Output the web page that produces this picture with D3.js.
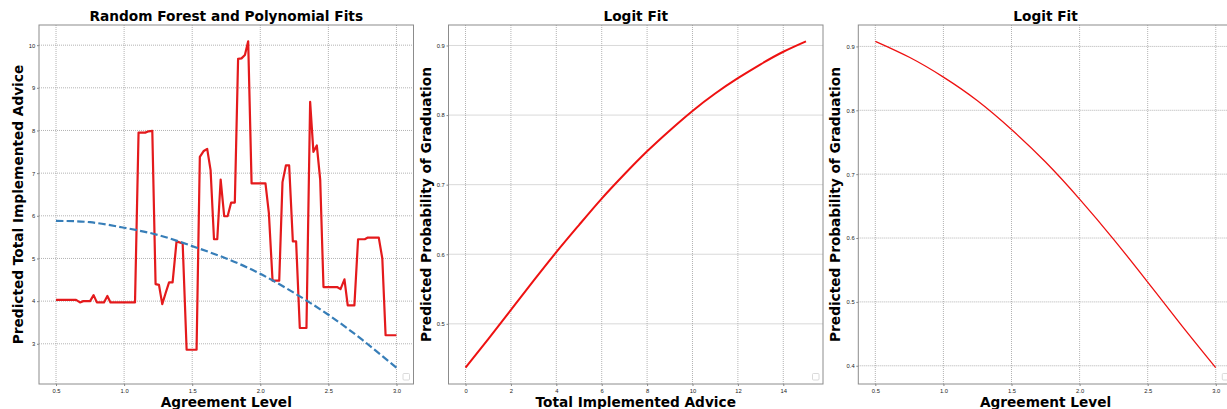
<!DOCTYPE html>
<html>
<head>
<meta charset="utf-8">
<script src="https://cdn.jsdelivr.net/npm/d3@7"></script>
<style>
  body { margin: 0; background: #fff; }
  svg { display: block; font-family: "DejaVu Sans", sans-serif; }
  .grid line { stroke: #a0a0a0; stroke-width: 0.8; stroke-dasharray: 1,1; }
  .tick text { fill: #222; font-size: 5.8px; }
  .tick line { stroke: #888; }
  .domain { display: none; }
</style>
</head>
<body>
<svg width="1227" height="409"></svg>
<script>
// random forest predictions vs agreement level
var rfX = [0.5, 0.647, 0.676, 0.70, 0.75, 0.776, 0.80, 0.852, 0.877, 0.90, 1.08, 1.106, 1.155, 1.18, 1.207,
  1.231, 1.256, 1.28, 1.305, 1.33, 1.356, 1.385, 1.43, 1.459, 1.532, 1.556, 1.585, 1.61, 1.635, 1.66, 1.684,
  1.709, 1.735, 1.76, 1.786, 1.813, 1.837, 1.862, 1.887, 1.911, 1.936, 2.038, 2.063, 2.09, 2.139, 2.163,
  2.188, 2.212, 2.239, 2.263, 2.29, 2.339, 2.366, 2.39, 2.415, 2.44, 2.464, 2.564, 2.589, 2.618, 2.642,
  2.691, 2.718, 2.767, 2.79, 2.87, 2.896, 2.92, 3.0];
var rfY = [4.03, 4.03, 3.97, 4.0, 4.0, 4.14, 3.97, 3.97, 4.12, 3.97, 3.97, 7.95, 7.95, 7.98, 7.99,
  4.40, 4.38, 3.93, 4.19, 4.44, 4.44, 5.40, 5.35, 2.86, 2.86, 7.38, 7.52, 7.57, 7.07, 5.45, 5.45,
  6.85, 5.99, 5.99, 6.31, 6.31, 9.68, 9.69, 9.77, 10.09, 6.76, 6.76, 6.06, 4.48, 4.48, 6.79,
  7.18, 7.18, 5.40, 5.40, 3.37, 3.37, 8.67, 7.50, 7.65, 6.84, 4.33, 4.33, 4.28, 4.51, 3.90,
  3.90, 5.45, 5.45, 5.49, 5.49, 5.0, 3.20, 3.20];

// polynomial fit (dashed)
var polyX = [0.5, 0.75, 1.0, 1.25, 1.5, 1.75, 2.0, 2.25, 2.5, 2.75, 3.0];
var polyY = [5.88, 5.85, 5.72, 5.55, 5.29, 5.0, 4.64, 4.19, 3.68, 3.09, 2.44];

// logit fit vs total implemented advice
var adviceX = [0, 1, 2, 3, 4, 5, 6, 7, 8, 9, 10, 11, 12, 13, 14, 15];
var adviceP = [0.437, 0.478, 0.520, 0.562, 0.603, 0.642, 0.680, 0.715, 0.748, 0.778, 0.806, 0.831, 0.853, 0.873, 0.891, 0.906];

// logit fit vs agreement level
var agreeX = [0.5, 0.75, 1.0, 1.25, 1.5, 1.75, 2.0, 2.25, 2.5, 2.75, 3.0];
var agreeP = [0.908, 0.883, 0.852, 0.815, 0.770, 0.719, 0.661, 0.598, 0.531, 0.463, 0.397];

// tick labels
var agreeTicks = [0.5, 1.0, 1.5, 2.0, 2.5, 3.0];
var rfTicks = [3, 4, 5, 6, 7, 8, 9, 10];
var adviceTicks = [0, 2, 4, 6, 8, 10, 12, 14];
var probTicks1 = [0.5, 0.6, 0.7, 0.8, 0.9];
var probTicks2 = [0.4, 0.5, 0.6, 0.7, 0.8, 0.9];

var svg = d3.select("svg");
var plotTop = 25, plotBottom = 384, panelW = 374.5;

// matplotlib style padding: 5% of the data range on each side
function padded(vals) {
  var e = d3.extent(vals), m = (e[1] - e[0]) * 0.05;
  return [e[0] - m, e[1] + m];
}

function drawPanel(p) {
  var x = d3.scaleLinear().domain(padded(p.xDomainVals)).range([p.left, p.left + panelW]);
  var y = d3.scaleLinear().domain(padded(p.yDomainVals)).range([plotBottom, plotTop]);
  var g = svg.append("g");

  // dotted grid
  var grid = g.append("g").attr("class", "grid");
  grid.selectAll(".gx").data(p.xTicks).enter().append("line")
    .attr("x1", d => x(d)).attr("x2", d => x(d)).attr("y1", plotTop).attr("y2", plotBottom);
  grid.selectAll(".gy").data(p.yTicks).enter().append("line")
    .attr("y1", d => y(d)).attr("y2", d => y(d)).attr("x1", p.left).attr("x2", p.left + panelW);

  g.append("g").attr("transform", "translate(0," + plotBottom + ")")
    .call(d3.axisBottom(x).tickValues(p.xTicks).tickFormat(p.xFmt).tickSize(2).tickPadding(2.5));
  g.append("g").attr("transform", "translate(" + p.left + ",0)")
    .call(d3.axisLeft(y).tickValues(p.yTicks).tickFormat(p.yFmt).tickSize(2).tickPadding(1.7));

  // lines
  p.lines.forEach(function(ln) {
    var pts = ln.xs.map((v, i) => [v, ln.ys[i]]);
    g.append("path")
      .attr("d", d3.line().x(d => x(d[0])).y(d => y(d[1])).curve(ln.curve || d3.curveLinear)(pts))
      .attr("fill", "none")
      .attr("stroke", ln.color)
      .attr("stroke-width", ln.width)
      .attr("stroke-linejoin", "round")
      .attr("stroke-dasharray", ln.dash || null);
  });

  // empty legend box
  g.append("rect")
    .attr("x", p.left + panelW - 10.5).attr("y", plotBottom - 10.5)
    .attr("width", 6.5).attr("height", 6.5).attr("rx", 1)
    .attr("fill", "#fff").attr("stroke", "#d0d0d0").attr("stroke-width", 0.8);

  // frame
  g.append("rect")
    .attr("x", p.left).attr("y", plotTop).attr("width", panelW).attr("height", plotBottom - plotTop)
    .attr("fill", "none").attr("stroke", "#8c8c8c").attr("stroke-width", 1);

  var cx = p.left + panelW / 2;
  g.append("text").attr("x", cx).attr("y", 21.3)
    .attr("text-anchor", "middle").attr("font-weight", "bold").attr("font-size", "13.7px")
    .text(p.title);
  // x label sits at the bottom edge, as in the source figure
  g.append("text").attr("x", cx).attr("y", 407.2)
    .attr("text-anchor", "middle").attr("font-weight", "bold").attr("font-size", "13.7px")
    .text(p.xLabel);
  g.append("text")
    .attr("transform", "translate(" + (p.left - p.yLabelOff) + "," + (plotTop + plotBottom) / 2 + ") rotate(-90)")
    .attr("text-anchor", "middle").attr("dy", "0.36em").attr("font-weight", "bold").attr("font-size", "13.7px")
    .text(p.yLabel);
}

var f1 = d3.format(".1f");

drawPanel({
  left: 39, title: "Random Forest and Polynomial Fits",
  xLabel: "Agreement Level", yLabel: "Predicted Total Implemented Advice", yLabelOff: 21,
  xDomainVals: rfX, yDomainVals: rfY.concat(polyY),
  xTicks: agreeTicks, xFmt: f1, yTicks: rfTicks, yFmt: d3.format("d"),
  lines: [
    { xs: rfX, ys: rfY, color: "#e41a1c", width: 2.2 },
    { xs: polyX, ys: polyY, color: "#377eb8", width: 2.2, dash: "7.4,3.2", curve: d3.curveNatural }
  ]
});

drawPanel({
  left: 448.5, title: "Logit Fit",
  xLabel: "Total Implemented Advice", yLabel: "Predicted Probability of Graduation", yLabelOff: 22.5,
  xDomainVals: adviceX, yDomainVals: adviceP,
  xTicks: adviceTicks, xFmt: d3.format("d"), yTicks: probTicks1, yFmt: f1,
  lines: [{ xs: adviceX, ys: adviceP, color: "#ee1111", width: 2, curve: d3.curveNatural }]
});

drawPanel({
  left: 858.3, title: "Logit Fit",
  xLabel: "Agreement Level", yLabel: "Predicted Probability of Graduation", yLabelOff: 23,
  xDomainVals: agreeX, yDomainVals: agreeP,
  xTicks: agreeTicks, xFmt: f1, yTicks: probTicks2, yFmt: f1,
  lines: [{ xs: agreeX, ys: agreeP, color: "#ee1111", width: 1.3, curve: d3.curveNatural }]
});
</script>
</body>
</html>
